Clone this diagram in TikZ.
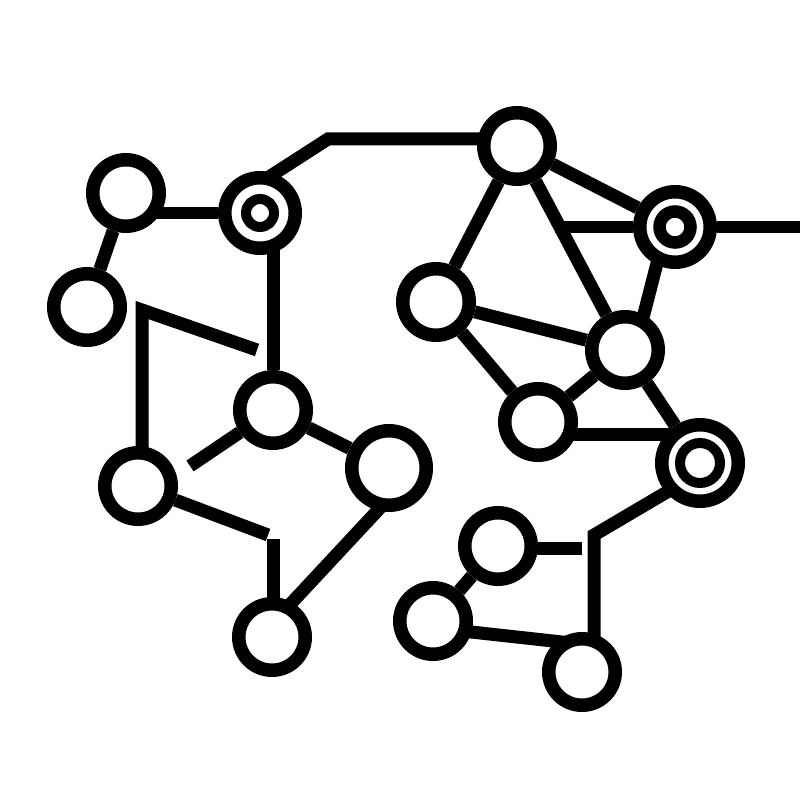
\documentclass[tikz,border=0pt]{standalone}
\usetikzlibrary{backgrounds}
\begin{document}
\begin{tikzpicture}[x=0.02cm, y=-0.02cm,
    ring/.style={circle, draw, fill=white, line width=0.27cm, inner sep=0pt, minimum size=1.33cm},
    big/.style={ring, minimum size=1.49cm},
    hub/.style 2 args={ring, minimum size=1.41cm,
      path picture={\draw[line width=#2] (path picture bounding box.center) circle (#1);}},
    link/.style={line width=0.26cm}]
      \useasboundingbox (0, 0) rectangle (800, 800);

      \node[ring] (a) at(126, 193){};
      \node[hub={0.28cm}{0.2cm}] (b) at(260, 213){};
      \node[ring] (c) at(87, 307){};
      \node[ring] (d) at(273, 410){};
      \node[ring] (e) at(138, 486){};
      \node[big] (f) at(389, 468){};
      \node[ring] (g) at(272, 637){};

      \node[ring] (h) at(517, 146){};
      \node[hub={0.31cm}{0.25cm}] (i) at(675, 227){};
      \node[ring] (j) at(436, 302){};
      \node[ring] (k) at(625, 350){};
      \node[ring] (l) at(538, 422){};
      \node[hub={0.4cm}{0.2cm}, minimum size=1.53cm] (m) at(700, 463){};
      \node[ring] (n) at(498, 546){};
      \node[ring] (o) at(433, 621){};
      \node[ring] (p) at(582, 672){};

      \coordinate (top) at(328, 139);
      \coordinate (up) at(142, 310);
      \coordinate (upend) at(257, 350);
      \coordinate (de) at(190, 466);
      \coordinate (eg) at(268, 535);
      \coordinate (gtop) at(273, 539);
      \coordinate (ik) at(555, 227);
      \coordinate (iout) at(800, 227);
      \coordinate (mp) at(594, 535);
      \coordinate (nr) at(582, 548);

      \begin{pgfonlayer}{background}
        \draw[link] (a) -- (c);
        \draw[link] (b) -- (a |- b);
        \draw[link, shorten <=-2mm] (b.70) -- (top) -- (top -| h);
        \draw[link] (d) -- (d |- b);
        \draw[link] (up |- e) -- (up) -- (upend);
        \draw[link] (d) -- (de);
        \draw[link] (e) -- (eg);
        \draw[link] (gtop) -- (gtop |- g);
        \draw[link] (d) -- (f);
        \draw[link, shorten <=-2mm, shorten >=-2mm] (f.-105) -- (g.60);

        \draw[link] (h) -- (j);
        \draw[link] (h) -- (k);
        \draw[link] (h) -- (i);
        \draw[link] (i) -- (ik);
        \draw[link] (i) -- (iout);
        \draw[link, shorten <=-2mm, shorten >=-2mm] (i.-116) -- (k.62);
        \draw[link] (j) -- (k);
        \draw[link] (j) -- (l);
        \draw[link] (l) -- (k);
        \draw[link] (k) -- (m);
        \draw[link] (l |- 0, 434) -- (m |- 0, 434);
        \draw[link, shorten <=-2mm] (m.-139) -- (mp) -- (mp |- p);
        \draw[link] (n |- nr) -- (nr);
        \draw[link] (n) -- (o);
        \draw[link, shorten <=-2mm, shorten >=-2mm] (o.-16) -- (p.130);
      \end{pgfonlayer}

    \end{tikzpicture}
\end{document}
